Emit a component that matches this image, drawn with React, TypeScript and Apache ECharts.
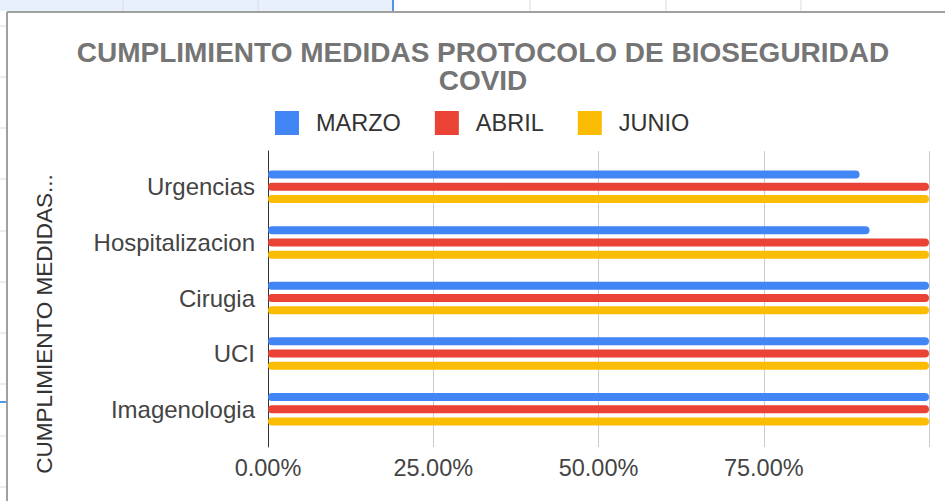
import React, { useEffect, useRef } from "react";
import * as echarts from "echarts";

const categories = ["Urgencias", "Hospitalizacion", "Cirugia", "UCI", "Imagenologia"];
const marzo = [0.895, 0.91, 1, 1, 1];
const abril = [1, 1, 1, 1, 1];
const junio = [1, 1, 1, 1, 1];
const seriesNames = ["MARZO", "ABRIL", "JUNIO"];
const seriesColors = ["#4285F4", "#EA4335", "#FBBC04"];
const titleText = "CUMPLIMIENTO MEDIDAS PROTOCOLO DE BIOSEGURIDAD\nCOVID";
const yAxisName = "CUMPLIMIENTO MEDIDAS...";

const FONT = "'Liberation Sans', Arial, sans-serif";

export default function App() {
  const ref = useRef<HTMLDivElement>(null);
  useEffect(() => {
    if (!ref.current) return;
    const chart = echarts.init(ref.current, undefined, { renderer: "svg" });
    const values = [marzo, abril, junio];
    const fmt = (v: number) => (v * 100).toFixed(2) + "%";
    chart.setOption({
      animation: false,
      backgroundColor: "#ffffff",
      textStyle: { fontFamily: FONT },
      graphic: [
        // spreadsheet top strip
        { type: "rect", shape: { x: 0, y: 0, width: 393, height: 11 }, style: { fill: "#e8f0fe" }, silent: true },
        { type: "line", shape: { x1: 393, y1: 0, x2: 393, y2: 11 }, style: { stroke: "#1a73e8", lineWidth: 1.5 }, silent: true },
        ...[123, 258, 530, 666, 801].map((x) => ({
          type: "line",
          shape: { x1: x, y1: 0, x2: x, y2: 11 },
          style: { stroke: "#dadce0", lineWidth: 1 },
          silent: true,
        })),
        ...[26, 77, 128, 179, 231, 282, 333, 384, 436, 487].map((y) => ({
          type: "line",
          shape: { x1: 0, y1: y, x2: 6, y2: y },
          style: { stroke: "#dadce0", lineWidth: 1 },
          silent: true,
        })),
        { type: "line", shape: { x1: 0, y1: 402, x2: 6, y2: 402 }, style: { stroke: "#1a73e8", lineWidth: 1.5 }, silent: true },
        // chart frame
        { type: "line", shape: { x1: 7, y1: 12, x2: 945, y2: 12 }, style: { stroke: "#a0a0a0", lineWidth: 2 }, silent: true },
        { type: "line", shape: { x1: 7, y1: 12, x2: 7, y2: 501 }, style: { stroke: "#a0a0a0", lineWidth: 2 }, silent: true },
        {
          type: "text",
          x: 483,
          y: 38,
          style: {
            text: titleText,
            fontSize: 28,
            fontWeight: "bold",
            fontFamily: FONT,
            fill: "#757575",
            textAlign: "center",
            textVerticalAlign: "top",
            lineHeight: 28,
          },
        },
        {
          type: "text",
          x: 44,
          y: 324,
          rotation: Math.PI / 2,
          style: {
            text: yAxisName,
            fontSize: 22.5,
            fontFamily: FONT,
            fill: "#333333",
            textAlign: "center",
            textVerticalAlign: "middle",
          },
        },
      ],
      legend: {
        top: 111,
        left: 275,
        padding: 0,
        itemWidth: 24,
        itemHeight: 24,
        itemGap: 34,
        icon: "rect",
        data: seriesNames,
        textStyle: { fontSize: 23.5, color: "#333333", fontFamily: FONT, padding: [0, 0, 0, 12] },
      },
      grid: [
        { left: 268, right: 16, top: 151, height: 296 },
        { left: 268, right: 16, top: 159, height: 278 },
      ],
      xAxis: [
        {
          type: "value",
          gridIndex: 0,
          min: 0,
          max: 1,
          interval: 0.25,
          axisLine: { show: false },
          axisTick: { show: false },
          splitLine: { show: true, lineStyle: { color: "#cccccc", width: 1 } },
          axisLabel: {
            formatter: fmt,
            fontSize: 23.5,
            color: "#444444",
            fontFamily: FONT,
            margin: 9,
            showMaxLabel: false,
          },
        },
        {
          type: "value",
          gridIndex: 1,
          min: 0,
          max: 1,
          show: false,
        },
      ],
      yAxis: [
        {
          type: "value",
          gridIndex: 0,
          min: 0,
          max: 1,
          axisLine: { show: true, lineStyle: { color: "#333333", width: 1 } },
          axisTick: { show: false },
          axisLabel: { show: false },
          splitLine: { show: false },
        },
        {
          type: "category",
          gridIndex: 1,
          data: categories,
          inverse: true,
          axisLine: { show: false },
          axisTick: { show: false },
          splitLine: { show: false },
          axisLabel: { fontSize: 24, color: "#444444", fontFamily: FONT, margin: 13 },
        },
      ],
      series: seriesNames.map((name, i) => ({
        name,
        type: "bar",
        xAxisIndex: 1,
        yAxisIndex: 1,
        data: values[i],
        barWidth: 8,
        barGap: "53%",
        itemStyle: { color: seriesColors[i], borderRadius: 4 },
      })),
    });
    return () => chart.dispose();
  }, []);
  return (
    <div
      ref={ref}
      style={{ position: "fixed", left: 0, top: 0, width: 945, height: 501 }}
    />
  );
}
